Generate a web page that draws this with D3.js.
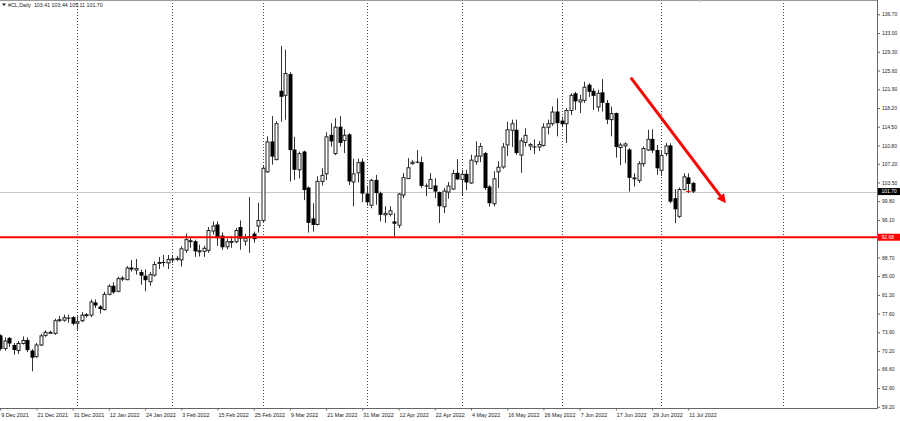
<!DOCTYPE html>
<html><head><meta charset="utf-8">
<script src="https://cdn.jsdelivr.net/npm/d3@7"></script>
<style>html,body{margin:0;padding:0;background:#fff;overflow:hidden}</style>
</head><body><svg id="c" width="900" height="421"></svg>
<script>
// ---- data ----
const openP = [73.3,70.8,72.8,71.4,70.4,71.8,72.4,70.3,69.2,71.5,73.4,73.9,73.8,76.4,76.4,76.8,76.9,75.8,76.3,77.4,
77.4,79.8,79.0,78.5,81.5,83.1,82.1,84.6,84.4,86.7,86.3,85.8,85.1,84.0,85.3,87.6,87.8,87.7,88.3,88.5,
88.3,90.2,92.0,91.9,90.0,90.0,90.2,94.0,95.2,93.0,90.9,91.9,91.9,94.7,92.0,92.8,93.4,95.0,96.1,105.7,
111.6,108.1,121.6,120.8,124.9,110.0,106.1,109.6,102.5,96.4,95.3,103.8,105.3,112.9,109.3,114.5,111.9,113.0,103.7,105.5,
107.6,101.3,99.1,104.0,101.4,97.2,97.3,95.8,95.15,101.1,104.35,107.3,107.6,107.5,102.9,102.4,102.9,101.6,98.8,101.7,
102.3,105.4,104.2,105.2,103.5,107.7,108.8,109.3,102.7,99.4,105.7,106.65,111.0,113.9,113.9,109.0,111.5,110.8,110.6,110.6,
110.9,114.5,115.2,117.5,115.7,115.2,117.8,121.1,119.5,119.8,122.8,121.6,118.5,121.3,119.2,116.0,117.2,110.5,110.8,110.0,
104.3,104.0,107.3,110.0,112.1,109.9,106.0,109.3,110.8,100.4,96.9,102.2,104.5,103.41];
const highP = [73.5,72.9,73.0,71.8,72.2,73.1,72.9,70.6,71.8,73.6,74.3,74.2,76.6,77.1,77.4,77.4,77.1,77.1,77.9,77.7,
80.4,80.4,79.3,81.9,83.4,83.8,84.9,85.0,87.0,88.2,88.4,86.3,86.3,85.8,87.9,88.8,89.2,89.2,89.2,89.0,
90.9,93.4,92.5,92.2,91.2,91.0,94.7,95.8,95.8,93.6,92.4,92.9,94.5,96.0,93.3,100.6,93.8,99.5,106.8,112.6,
116.6,115.6,130.45,129.7,125.3,112.5,109.6,109.8,102.7,99.4,104.7,106.3,113.4,115.2,116.2,116.6,114.0,113.2,108.2,108.2,
108.2,102.9,104.2,105.0,101.7,98.8,98.8,97.45,101.4,105.35,108.3,107.9,109.9,108.6,103.3,105.35,104.35,101.7,102.4,103.6,
106.0,108.1,106.0,106.0,109.0,111.6,111.3,109.5,103.0,105.7,107.7,111.3,115.5,115.9,115.9,112.3,114.2,111.3,112.0,111.7,
115.2,115.9,118.5,120.1,116.5,118.2,121.1,121.4,120.8,123.4,123.1,122.1,121.8,123.9,119.8,118.5,117.3,111.3,111.4,110.3,
105.3,107.7,110.6,113.9,114.0,110.9,109.8,111.3,111.2,102.2,102.5,105.3,105.3,103.6];
const lowP = [70.3,70.3,71.0,69.5,69.6,71.5,70.0,66.2,68.9,71.2,73.0,73.7,73.4,76.0,76.0,75.8,75.3,74.4,75.9,76.8,
76.9,78.7,77.6,78.2,81.2,81.5,81.8,84.0,84.2,85.9,85.3,83.3,82.0,83.1,84.9,86.4,86.9,86.4,87.6,88.0,
86.9,89.6,90.6,88.8,88.9,88.8,89.6,93.2,91.0,90.2,90.3,90.6,91.5,90.2,91.0,89.6,91.6,93.6,95.6,105.4,
107.0,107.9,115.5,115.9,103.7,104.0,104.3,100.0,93.6,93.8,95.0,102.9,104.0,110.6,108.9,110.6,109.3,103.0,98.8,103.5,
99.6,98.9,98.4,99.1,95.8,95.5,96.8,92.85,94.5,100.4,104.2,107.0,107.3,102.4,100.8,102.2,100.4,95.5,97.45,100.3,
102.0,104.0,100.9,102.0,103.2,107.0,107.5,102.0,98.75,98.75,102.4,106.2,108.7,110.5,109.0,105.4,110.6,109.9,109.1,109.7,
110.6,113.0,114.7,112.6,114.4,111.3,116.8,117.8,117.2,119.2,120.4,117.8,117.5,117.5,115.0,112.6,108.4,106.9,107.3,101.7,
102.7,103.4,106.6,109.7,109.3,105.0,104.8,108.7,99.4,95.45,96.5,101.9,101.4,101.4];
const closeP = [70.6,72.3,71.7,70.4,71.8,72.4,70.4,68.9,71.5,73.3,74.0,74.0,76.3,76.5,76.9,76.7,75.6,76.1,77.4,77.5,
80.0,79.2,78.5,81.5,83.1,81.8,84.6,84.7,86.7,86.3,86.6,85.1,84.2,85.4,87.4,87.8,87.6,88.4,88.5,88.6,
90.5,92.3,92.1,89.9,90.1,90.6,94.1,95.0,92.5,90.7,91.9,91.95,94.1,92.4,92.6,92.9,92.3,96.1,106.4,111.6,
108.6,115.2,120.4,125.1,109.9,106.0,109.3,102.0,95.5,95.1,103.8,105.0,112.6,111.6,114.5,111.3,112.9,103.7,105.3,107.5,
101.3,99.6,104.0,101.4,97.1,97.5,98.0,95.35,101.3,104.55,106.5,107.6,107.5,102.8,102.7,104.2,101.7,98.8,101.9,102.9,
105.35,104.1,105.2,103.5,108.0,108.8,110.7,102.4,99.4,104.3,106.6,110.6,114.0,115.2,109.3,111.8,112.9,111.1,110.5,111.1,
114.5,115.2,117.5,115.2,115.0,117.8,120.8,119.5,119.9,122.4,121.4,120.6,121.2,119.2,115.9,117.2,110.5,111.0,111.2,104.4,
104.5,107.3,110.3,112.1,109.8,106.3,108.9,110.8,99.7,98.2,102.2,104.7,103.2,101.70];

const dateLabels = ["9 Dec 2021","21 Dec 2021","31 Dec 2021","12 Jan 2022","24 Jan 2022","3 Feb 2022","15 Feb 2022",
"25 Feb 2022","9 Mar 2022","21 Mar 2022","31 Mar 2022","12 Apr 2022","22 Apr 2022","4 May 2022","16 May 2022",
"26 May 2022","7 Jun 2022","17 Jun 2022","29 Jun 2022","11 Jul 2022"];
const labelIdx = [0,8,16,24,32,40,48,56,64,72,80,88,96,104,112,120,128,136,144,152];
// 92.40 is hidden behind the red level label in the reference
const priceTicks = [136.70,133.00,129.30,125.60,121.90,118.20,114.50,110.80,107.20,103.50,99.80,96.10,
88.70,85.00,81.30,77.60,73.90,70.20,66.60,62.90,59.20];
const separatorIdx = [17,38,58,81,102,124,146,173];
const supportLevel = 92.68;
const lastPrice = 101.70;
const arrowStart = {i:139.3, p:124.2};
const arrowEnd = {i:160.3, p:99.4};
const headerText = "#CL,Daily  103.41 103.44 105.11 101.70";

// ---- layout ----
const plotRight = 877.5, plotBottom = 408.5;
const svg = d3.select("#c");
const x = d3.scaleLinear().domain([0,152]).range([0.2, 0.2 + 152*4.527]);
const y = d3.scaleLinear().domain([59.2,136.7]).range([406.8,14.3]);
const bars = d3.range(openP.length).map(i => ({i, o:openP[i], h:highP[i], l:lowP[i], c:closeP[i]}));

svg.append("rect").attr("width",900).attr("height",421).attr("fill","#fff");

svg.append("defs").append("clipPath").attr("id","plot")
  .append("rect").attr("x",0).attr("y",0).attr("width",plotRight).attr("height",plotBottom);
const plot = svg.append("g").attr("clip-path","url(#plot)");

// period separators
plot.selectAll("line.sep").data(separatorIdx).join("line")
  .attr("x1", d => Math.round(x(d))+0.5).attr("x2", d => Math.round(x(d))+0.5)
  .attr("y1", 0).attr("y2", plotBottom)
  .attr("stroke","#444").attr("stroke-width",1).attr("stroke-dasharray","1,2");

// last price line
plot.append("line").attr("x1",0).attr("x2",plotRight)
  .attr("y1", Math.round(y(lastPrice))+0.5).attr("y2", Math.round(y(lastPrice))+0.5)
  .attr("stroke","#c8c8c8").attr("stroke-width",1);

// candles
const cg = plot.append("g");
cg.selectAll("line.wick").data(bars).join("line")
  .attr("x1", d => Math.round(x(d.i))+0.5).attr("x2", d => Math.round(x(d.i))+0.5)
  .attr("y1", d => y(d.h)).attr("y2", d => y(d.l))
  .attr("stroke","#333").attr("stroke-width",1);
cg.selectAll("rect.body").data(bars).join("rect")
  .attr("x", d => Math.round(x(d.i)) - 1 + (d.c >= d.o ? 0 : -0.5))
  .attr("width", d => d.c >= d.o ? 3 : 4)
  .attr("y", d => Math.min(y(d.o), y(d.c)) + (d.c >= d.o ? 0.5 : 0))
  .attr("height", d => Math.max(Math.abs(y(d.o) - y(d.c)), 1))
  .attr("fill", d => d.c >= d.o ? "#fff" : "#000")
  .attr("stroke", d => d.c >= d.o ? "#222" : "none")
  .attr("stroke-width",1);

// support line
plot.append("line").attr("x1",0).attr("x2",plotRight)
  .attr("y1", y(supportLevel)).attr("y2", y(supportLevel))
  .attr("stroke","#ff0000").attr("stroke-width",1.8);

// small red mark at last price
plot.append("line").attr("x1", x(151.5)).attr("x2", x(152.5))
  .attr("y1", y(lastPrice)).attr("y2", y(lastPrice))
  .attr("stroke","#ff0000").attr("stroke-width",1);

// arrow
const ax1 = x(arrowStart.i), ay1 = y(arrowStart.p), ax2 = x(arrowEnd.i), ay2 = y(arrowEnd.p);
const ang = Math.atan2(ay2-ay1, ax2-ax1);
const hl = 9, hw = 4.5;
const bx = ax2 - hl*Math.cos(ang), by = ay2 - hl*Math.sin(ang);
plot.append("line").attr("x1",ax1).attr("y1",ay1).attr("x2",bx).attr("y2",by)
  .attr("stroke","#ff0000").attr("stroke-width",3);
plot.append("path").attr("fill","#ff0000")
  .attr("d", d3.line()([[ax2,ay2],[bx - hw*Math.sin(ang), by + hw*Math.cos(ang)],[bx + hw*Math.sin(ang), by - hw*Math.cos(ang)]]) + "Z");

// frame lines
svg.append("line").attr("x1",0).attr("x2",plotRight).attr("y1",0.5).attr("y2",0.5).attr("stroke","#999");
svg.append("line").attr("x1",plotRight).attr("x2",plotRight).attr("y1",0).attr("y2",plotBottom).attr("stroke","#666");
svg.append("line").attr("x1",0).attr("x2",plotRight).attr("y1",plotBottom).attr("y2",plotBottom).attr("stroke","#666");
svg.append("path").attr("d","M698,0 L702,0 L700,2 Z").attr("fill","#aaa");

// right axis
const ya = svg.append("g").attr("transform",`translate(${plotRight},0)`)
  .call(d3.axisRight(y).tickValues(priceTicks).tickFormat(d3.format(".2f")).tickSize(2.5).tickSizeOuter(0).tickPadding(2));
ya.select(".domain").remove();
ya.selectAll("line").attr("stroke","#666");
ya.selectAll("text").attr("font-family","Liberation Sans, Arial, sans-serif").attr("font-size","5px").attr("fill","#222");

// bottom axis
const xa = svg.append("g").attr("transform",`translate(0,${plotBottom})`)
  .call(d3.axisBottom(x).tickValues(labelIdx).tickFormat((d,k) => dateLabels[k]).tickSize(2).tickSizeOuter(0).tickPadding(3));
xa.select(".domain").remove();
xa.selectAll("line").attr("stroke","#666");
xa.selectAll("text").attr("text-anchor","start").attr("dx","0.5")
  .attr("font-family","Liberation Sans, Arial, sans-serif").attr("font-size","5.4px").attr("fill","#222");

// price boxes
function priceBox(v, bg, fg) {
  const yy = y(v);
  svg.append("rect").attr("x",plotRight+0.5).attr("y",yy-3.5).attr("width",900-plotRight).attr("height",7).attr("fill",bg);
  svg.append("text").attr("x",plotRight+4).attr("y",yy).attr("dy","0.35em")
    .attr("font-family","Liberation Sans, Arial, sans-serif").attr("font-size","5px").attr("fill",fg)
    .text(d3.format(".2f")(v));
}
priceBox(lastPrice, "#000", "#fff");
priceBox(supportLevel, "#ff0000", "#fff");

// header
svg.append("path").attr("d","M2,3.5 L6,3.5 L4,6 Z").attr("fill","#222");
svg.append("text").attr("x",8).attr("y",7).attr("font-family","Liberation Sans, Arial, sans-serif")
  .attr("font-size","5.3px").attr("fill","#222").style("white-space","pre").text(headerText);
</script></body></html>
